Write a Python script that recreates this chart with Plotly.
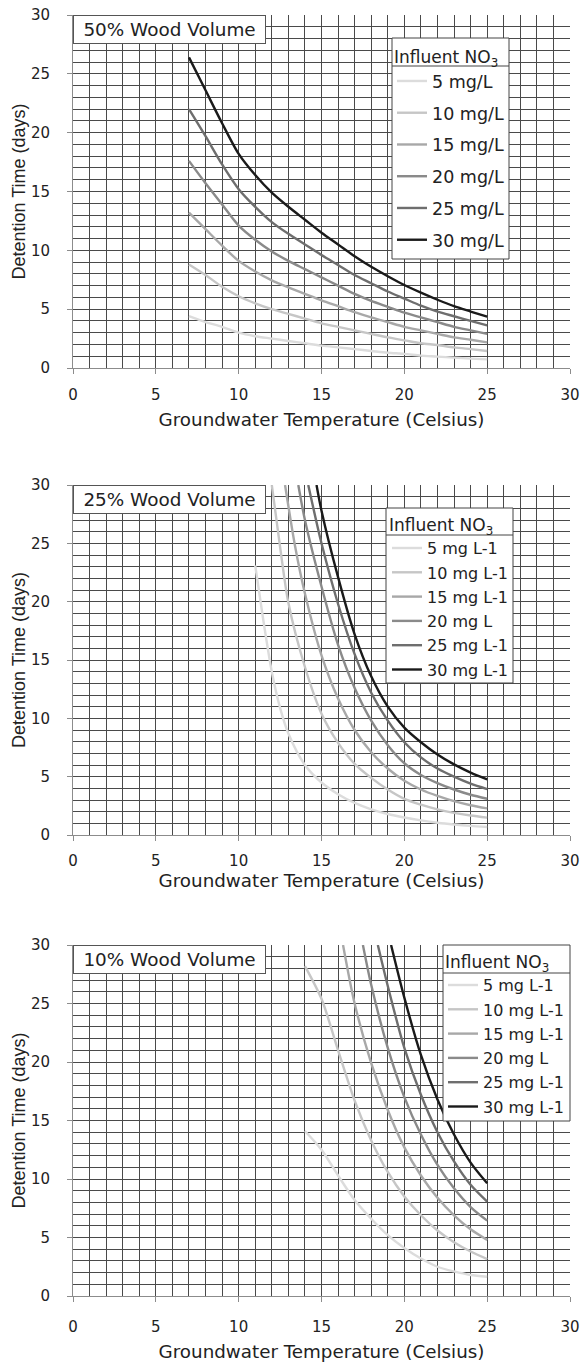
import plotly.graph_objects as go

FONT = "Liberation Sans, Arial, sans-serif"
WFONT = "DejaVu Sans, Verdana, sans-serif"

# ---------------- data ----------------
conc_labels_50 = ["5 mg/L", "10 mg/L", "15 mg/L", "20 mg/L", "25 mg/L", "30 mg/L"]
conc_labels_25 = ["5 mg L-1", "10 mg L-1", "15 mg L-1", "20 mg L", "25 mg L-1", "30 mg L-1"]
conc_labels_10 = ["5 mg L-1", "10 mg L-1", "15 mg L-1", "20 mg L", "25 mg L-1", "30 mg L-1"]
line_colors = ["#dcdcdc", "#c6c6c6", "#a8a8a8", "#8a8a8a", "#6e6e6e", "#1a1a1a"]

# 50% wood volume
t50 = [7, 8, 9, 10, 11, 12, 13, 14, 15, 16, 17, 18, 19, 20, 21, 22, 23, 24, 25]
d50_5 = [4.4, 3.9, 3.5, 3.0, 2.7, 2.5, 2.3, 2.1, 1.9, 1.75, 1.6, 1.45, 1.3, 1.2, 1.05, 0.97, 0.88, 0.8, 0.73]
d50_10 = [8.8, 7.9, 6.9, 6.1, 5.5, 5.0, 4.6, 4.2, 3.8, 3.5, 3.2, 2.9, 2.6, 2.35, 2.1, 1.95, 1.75, 1.6, 1.45]
d50_15 = [13.2, 11.8, 10.4, 9.1, 8.2, 7.45, 6.85, 6.3, 5.75, 5.25, 4.75, 4.3, 3.9, 3.5, 3.2, 2.9, 2.6, 2.4, 2.18]
d50_20 = [17.6, 15.7, 13.9, 12.1, 10.9, 9.9, 9.1, 8.4, 7.7, 7.0, 6.3, 5.7, 5.2, 4.7, 4.3, 3.9, 3.5, 3.2, 2.9]
d50_25 = [22.0, 19.7, 17.3, 15.2, 13.7, 12.4, 11.4, 10.5, 9.6, 8.75, 7.9, 7.2, 6.5, 5.9, 5.3, 4.8, 4.4, 4.0, 3.63]
d50_30 = [26.4, 23.6, 20.8, 18.2, 16.4, 14.9, 13.7, 12.6, 11.5, 10.5, 9.5, 8.6, 7.8, 7.05, 6.4, 5.8, 5.25, 4.8, 4.36]

# 25% wood volume
t25_5 = [11, 11.5, 12, 12.5, 13, 14, 15, 16, 17, 18, 19, 20, 21, 22, 23, 24, 25]
d25_5 = [23.1, 18.3, 14.0, 10.9, 8.7, 6.0, 4.5, 3.5, 2.75, 2.2, 1.8, 1.5, 1.25, 1.05, 0.9, 0.78, 0.69]
t25_10 = [12.0, 12.5, 13, 14, 15, 16, 17, 18, 19, 20, 21, 22, 23, 24, 25]
d25_10 = [30, 24.7, 19.9, 14.4, 10.4, 7.9, 6.1, 4.9, 3.9, 3.1, 2.6, 2.2, 1.9, 1.67, 1.49]
t25_15 = [12.8, 13.4, 14, 15, 16, 17, 18, 19, 20, 21, 22, 23, 24, 25]
d25_15 = [30, 24.8, 20.7, 15.4, 11.7, 9.0, 7.1, 5.7, 4.65, 3.9, 3.35, 2.9, 2.55, 2.28]
t25_20 = [13.6, 14, 15, 16, 17, 18, 19, 20, 21, 22, 23, 24, 25]
d25_20 = [30, 27.0, 21.3, 16.3, 12.6, 9.8, 7.7, 6.15, 5.15, 4.45, 3.9, 3.45, 3.11]
t25_25 = [14.2, 15, 16, 17, 18, 19, 20, 21, 22, 23, 24, 25]
d25_25 = [30, 25.0, 19.8, 15.5, 12.2, 9.8, 7.95, 6.65, 5.7, 5.0, 4.4, 3.94]
t25_30 = [14.7, 15, 16, 17, 18, 19, 20, 21, 22, 23, 24, 25]
d25_30 = [30, 27.8, 22.1, 17.2, 13.6, 11.0, 9.2, 7.95, 6.9, 6.05, 5.35, 4.77]

# 10% wood volume
t10_5 = [14, 15, 16, 17, 18, 19, 20, 21, 22, 23, 24, 25]
d10_5 = [14.1, 12.5, 10.3, 8.2, 6.6, 5.2, 4.1, 3.2, 2.5, 2.1, 1.8, 1.65]
t10_10 = [14, 15, 16, 17, 18, 19, 20, 21, 22, 23, 24, 25]
d10_10 = [28.2, 25.4, 21.0, 16.7, 13.3, 10.6, 8.5, 6.9, 5.6, 4.6, 3.8, 3.16]
t10_15 = [16.3, 17, 18, 19, 20, 21, 22, 23, 24, 25]
d10_15 = [30, 25.0, 19.9, 15.9, 12.7, 10.3, 8.4, 6.9, 5.7, 4.79]
t10_20 = [17.5, 18, 19, 20, 21, 22, 23, 24, 25]
d10_20 = [30, 26.6, 21.2, 17.0, 13.8, 11.2, 9.2, 7.6, 6.44]
t10_25 = [18.4, 19, 20, 21, 22, 23, 24, 25]
d10_25 = [30, 26.5, 21.2, 17.2, 14.0, 11.5, 9.5, 8.06]
t10_30 = [19.2, 20, 21, 22, 23, 24, 25]
d10_30 = [30, 25.5, 20.6, 16.8, 13.8, 11.4, 9.63]

panel_titles = ["50% Wood Volume", "25% Wood Volume", "10% Wood Volume"]
x_title = "Groundwater Temperature (Celsius)"
y_title = "Detention Time (days)"
legend_title = "Influent NO<sub>3</sub>"

panels = [
    (conc_labels_50, [(t50, d50_5), (t50, d50_10), (t50, d50_15), (t50, d50_20), (t50, d50_25), (t50, d50_30)]),
    (conc_labels_25, [(t25_5, d25_5), (t25_10, d25_10), (t25_15, d25_15), (t25_20, d25_20), (t25_25, d25_25), (t25_30, d25_30)]),
    (conc_labels_10, [(t10_5, d10_5), (t10_10, d10_10), (t10_15, d10_15), (t10_20, d10_20), (t10_25, d10_25), (t10_30, d10_30)]),
]

# ---------------- figure ----------------
W, H = 584, 1362
ML, MR, MT, MB = 73, 14, 15, 66
PH = H - MT - MB
PW = W - ML - MR
def py(pix):  # pixel y -> paper y
    return (H - MB - pix) / PH
def px(pix):
    return (pix - ML) / PW

domains = [(py(368), py(15)), (py(835), py(485)), (py(1296), py(945))]
tick_standoff = [8, 7, 12]
title_standoff = [10, 1, 10]

fig = go.Figure()
legend_names = ["legend", "legend2", "legend3"]
for i, (labels, series) in enumerate(panels):
    xa = "x" if i == 0 else f"x{i+1}"
    ya = "y" if i == 0 else f"y{i+1}"
    for j, ((tx, dy), lab) in enumerate(zip(series, labels)):
        fig.add_trace(go.Scatter(
            x=tx, y=dy, mode="lines", name=lab,
            line=dict(color=line_colors[j], width=2.4, shape="spline", smoothing=0.8),
            xaxis=xa, yaxis=ya, legend=legend_names[i],
            legendgroup=f"p{i}g{j}",
        ))

grid_col = "#4a4a4a"
axis_col = "#8c8c8c"
for i in range(3):
    xk = "xaxis" if i == 0 else f"xaxis{i+1}"
    yk = "yaxis" if i == 0 else f"yaxis{i+1}"
    ya = "y" if i == 0 else f"y{i+1}"
    xa = "x" if i == 0 else f"x{i+1}"
    fig.layout[xk] = dict(
        domain=[0, 1], anchor=ya, range=[0, 30], dtick=5, tick0=0,
        showgrid=True, gridcolor=grid_col, gridwidth=1,
        minor=dict(dtick=1, showgrid=True, gridcolor=grid_col, gridwidth=1, ticks=""),
        ticks="outside", ticklen=5, tickcolor=axis_col,
        showline=True, linecolor=axis_col, mirror=False, zeroline=False,
        tickfont=dict(family=WFONT, size=15, color="#222"),
        ticklabelstandoff=tick_standoff[i], automargin=False,
        title=dict(text=x_title, font=dict(family=WFONT, size=18.3, color="#222"),
                   standoff=title_standoff[i]),
    )
    fig.layout[yk] = dict(
        domain=list(domains[i]), anchor=xa, range=[0, 30], dtick=5, tick0=0,
        showgrid=True, gridcolor=grid_col, gridwidth=1,
        minor=dict(dtick=1, showgrid=True, gridcolor=grid_col, gridwidth=1, ticks=""),
        ticks="outside", ticklen=5, tickcolor=axis_col,
        showline=True, linecolor=axis_col, zeroline=False,
        tickfont=dict(family=WFONT, size=15, color="#222"),
        ticklabelstandoff=14, automargin=False,
        title=dict(text=y_title, font=dict(family=FONT, size=18, color="#222"), standoff=0),
    )
    fig.add_annotation(
        text=panel_titles[i], xref=f"{xa} domain", yref=f"{ya} domain",
        x=0, y=1, xanchor="left", yanchor="top", showarrow=False,
        font=dict(family=WFONT, size=18.4, color="#222"),
        width=185, height=21, align="center",
        bgcolor="white", bordercolor="#555", borderwidth=1, borderpad=3,
    )

def leg(fs, gap, **kw):
    return dict(
        bgcolor="rgba(0,0,0,0)", borderwidth=0,
        font=dict(family=WFONT, size=fs, color="#222"),
        title=dict(text=legend_title, font=dict(family=WFONT, size=17, color="#222")),
        traceorder="grouped", itemwidth=30, tracegroupgap=gap, **kw,
    )

fig.update_layout(
    legend=leg(17.5, 6.0, x=px(509), y=py(41), xanchor="right", yanchor="top"),
    legend2=leg(16, 0.5, x=px(513), y=py(509), xanchor="right", yanchor="top"),
    legend3=leg(16, 0.5, x=px(569), y=py(946), xanchor="right", yanchor="top"),
)

# legend frames (white box, border, separator under the title)
legend_boxes = [(392, 509, 38, 259, 66), (386, 513, 508, 683, 535), (443, 570, 945, 1121, 973)]
for (x0, x1, y0, y1, ys) in legend_boxes:
    fig.add_shape(type="rect", xref="paper", yref="paper",
                  x0=px(x0), x1=px(x1), y0=py(y0), y1=py(y1),
                  fillcolor="white", line=dict(color="#444", width=1), layer="above")
    fig.add_shape(type="line", xref="paper", yref="paper",
                  x0=px(x0), x1=px(x1), y0=py(ys), y1=py(ys),
                  line=dict(color="#444", width=1), layer="above")

fig.update_layout(
    width=W, height=H, margin=dict(l=ML, r=MR, t=MT, b=MB, autoexpand=False),
    paper_bgcolor="white", plot_bgcolor="white", showlegend=True,
    font=dict(family=FONT, color="#222"),
)

fig.write_html("out.html")
